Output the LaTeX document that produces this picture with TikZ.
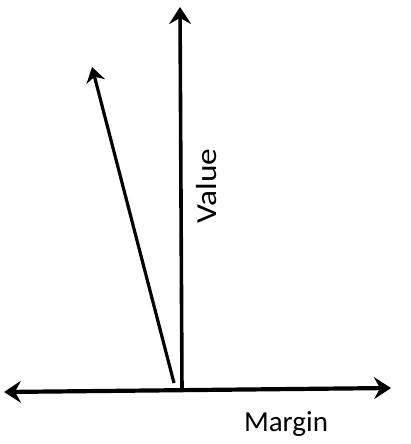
\documentclass[tikz,border=0pt]{standalone}
\usepackage{fontspec}
\setmainfont{Carlito}
\usetikzlibrary{arrows.meta}
\tikzset{
  bighead/.tip={Stealth[length=17pt,width=22pt,inset=6pt]},
  smallhead/.tip={Stealth[length=15pt,width=19pt,inset=5pt]}}
\begin{document}
\begin{tikzpicture}[x=1pt,y=-1pt,
  axis/.style={line width=4.2pt,bighead-bighead},
  yaxis/.style={line width=3.6pt,-bighead},
  vec/.style={line width=3.2pt,-smallhead},
  lbl/.style={font=\fontsize{29}{31}\selectfont,inner sep=0pt}]
\useasboundingbox (0,0) rectangle (411,444);
\coordinate (L) at (4,392);
\coordinate (R) at (391,388);
\coordinate (O) at (182,391);
\coordinate (T) at (180,7);
\coordinate (D0) at (174,383);
\coordinate (D1) at (92,67);
\draw[axis] (L) -- (R);
\draw[yaxis] (O) -- (T);
\draw[vec] (D0) -- (D1);
\node[lbl,rotate=90,xscale=1.15,anchor=center] (value) at (207,186) {Value};
\node[lbl,anchor=center] (margin) at (286,424) {Margin};
\end{tikzpicture}
\end{document}
